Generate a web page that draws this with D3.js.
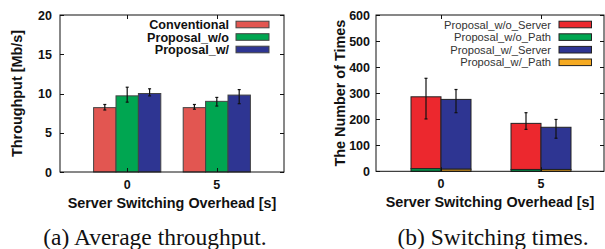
<!DOCTYPE html>
<html>
<head>
<meta charset="utf-8">
<script src="https://cdn.jsdelivr.net/npm/d3@7"></script>
<style>
  body { margin: 0; background: #fff; }
  svg { display: block; }
  text { font-family: "Liberation Sans", Arial, sans-serif; fill: #111; }
</style>
</head>
<body>
<svg id="chart" width="605" height="249"></svg>
<script>
(function() {
    'use strict';

    // ---- data: (a) average throughput ----
    var groups = ['0', '5'];
    var tputSeries = ['Conventional', 'Proposal_w/o', 'Proposal_w/'];
    var tputMean = [[8.2, 9.7, 10.0], [8.2, 9.0, 9.8]];
    var tputLow  = [[7.9, 8.9, 9.7],  [8.0, 8.4, 8.7]];
    var tputHigh = [[8.6, 10.8, 10.6], [8.6, 9.5, 10.5]];
    var tputTicks = [0, 5, 10, 15, 20];

    // ---- data: (b) switching times (server stacked on path) ----
    var swSeries = ['Proposal_w/o_Server', 'Proposal_w/o_Path', 'Proposal_w/_Server', 'Proposal_w/_Path'];
    var swPath   = [[10, 8], [7, 7]];      // [group][w/o, w/]
    var swServer = [[276, 268], [177, 162]];
    var swLow    = [[201, 225], [161, 127]];
    var swHigh   = [[357, 314], [225, 199]];
    var swTicks = [0, 100, 200, 300, 400, 500, 600];

    var colA = ['#e25651', '#00a651', '#2e3592'];
    var colB = ['#ec282e', '#00a651', '#2e3592', '#f5aa22'];

    var svg = d3.select('#chart');

    /******************************************************************
        shared frame: box, mirrored inside ticks, labels
     ******************************************************************/
    function frame(g, x, y, yTicks, yTitle, titleX, labelX) {
        var r = x.range(), b = y.range();
        g.append('rect')
            .attr('x', r[0]).attr('y', b[1])
            .attr('width', r[1] - r[0]).attr('height', b[0] - b[1])
            .attr('fill', 'none').attr('stroke', '#111').attr('stroke-width', 1);

        yTicks.forEach(function(t) {
            var yy = Math.round(y(t)) + 0.5;
            g.append('line').attr('x1', r[0]).attr('x2', r[0] + 4)
                .attr('y1', yy).attr('y2', yy).attr('stroke', '#111');
            g.append('line').attr('x1', r[1] - 4).attr('x2', r[1])
                .attr('y1', yy).attr('y2', yy).attr('stroke', '#111');
            g.append('text').attr('x', labelX).attr('y', y(t) + 4.5)
                .attr('text-anchor', 'end')
                .style('font-size', '12.5px').style('font-weight', 'bold')
                .text(t);
        });

        groups.forEach(function(gname, i) {
            var xx = Math.round(x(i)) + 0.5;
            g.append('line').attr('x1', xx).attr('x2', xx)
                .attr('y1', b[0]).attr('y2', b[0] - 4).attr('stroke', '#111');
            g.append('line').attr('x1', xx).attr('x2', xx)
                .attr('y1', b[1]).attr('y2', b[1] + 4).attr('stroke', '#111');
            g.append('text').attr('x', x(i)).attr('y', b[0] + 17)
                .attr('text-anchor', 'middle')
                .style('font-size', '12.5px').style('font-weight', 'bold')
                .text(gname);
        });

        g.append('text')
            .attr('transform', 'translate(' + titleX + ',' + (b[0] + b[1]) / 2 + ') rotate(-90)')
            .attr('text-anchor', 'middle')
            .style('font-size', '14.4px').style('font-weight', 'bold')
            .text(yTitle);

        g.append('text').attr('x', (r[0] + r[1]) / 2).attr('y', b[0] + 36)
            .attr('text-anchor', 'middle')
            .style('font-size', '14.4px').style('font-weight', 'bold')
            .text('Server Switching Overhead [s]');
    }

    function errbar(g, cx, y0, y1) {
        g.append('line').attr('x1', cx).attr('x2', cx).attr('y1', y0).attr('y2', y1)
            .attr('stroke', '#111').attr('stroke-width', 1.2);
        [y0, y1].forEach(function(yy) {
            g.append('line').attr('x1', cx - 1.5).attr('x2', cx + 1.5)
                .attr('y1', yy).attr('y2', yy).attr('stroke', '#111').attr('stroke-width', 1.2);
        });
    }

    /******************************************************************
        (a) average throughput
     ******************************************************************/
    var ga = svg.append('g');
    var xa = d3.scaleLinear().domain([-0.75, 1.75]).range([60, 284]);
    var ya = d3.scaleLinear().domain([0, 20]).range([172, 15]);
    var bwA = 0.25;

    tputMean.forEach(function(row, gi) {
        row.forEach(function(v, si) {
            var x0 = xa(gi + (si - 1.5) * bwA), x1 = xa(gi + (si - 0.5) * bwA);
            ga.append('rect')
                .attr('x', x0).attr('y', ya(v))
                .attr('width', x1 - x0).attr('height', ya(0) - ya(v))
                .attr('fill', colA[si]).attr('stroke', '#444').attr('stroke-width', 1);
            errbar(ga, (x0 + x1) / 2, ya(tputHigh[gi][si]), ya(tputLow[gi][si]));
        });
    });

    frame(ga, xa, ya, tputTicks, 'Throughput [Mb/s]', 21.5, 52);

    tputSeries.forEach(function(name, i) {
        var yy = 24.5 + i * 12.5;
        ga.append('text').attr('x', 229).attr('y', yy + 4.5)
            .attr('text-anchor', 'end')
            .style('font-size', '12.6px').style('font-weight', 'bold')
            .text(name);
        ga.append('rect').attr('x', 236).attr('y', yy - 3.3)
            .attr('width', 33).attr('height', 6.6)
            .attr('fill', colA[i]).attr('stroke', '#444');
    });

    ga.append('text').attr('x', 155).attr('y', 245)
        .attr('text-anchor', 'middle')
        .style('font-family', '"Liberation Serif", "Times New Roman", serif')
        .style('font-size', '23.5px')
        .text('(a) Average throughput.');

    /******************************************************************
        (b) switching times
     ******************************************************************/
    var gb = svg.append('g');
    var xb = d3.scaleLinear().domain([-0.65, 1.63]).range([376, 604]);
    var yb = d3.scaleLinear().domain([0, 600]).range([171.3, 15]);
    var bwB = 0.3;

    swServer.forEach(function(row, gi) {
        row.forEach(function(v, k) {
            var x0 = xb(gi + (k - 1) * bwB), x1 = xb(gi + k * bwB);
            var p = swPath[gi][k], top = p + v;
            gb.append('rect')
                .attr('x', x0).attr('y', yb(top))
                .attr('width', x1 - x0).attr('height', yb(p) - yb(top))
                .attr('fill', colB[k * 2]).attr('stroke', '#222').attr('stroke-width', 1);
            gb.append('rect')
                .attr('x', x0).attr('y', yb(p))
                .attr('width', x1 - x0).attr('height', yb(0) - yb(p))
                .attr('fill', colB[k * 2 + 1]).attr('stroke', '#222').attr('stroke-width', 1);
            errbar(gb, (x0 + x1) / 2, yb(swHigh[gi][k]), yb(swLow[gi][k]));
        });
    });

    frame(gb, xb, yb, swTicks, 'The Number of Times', 344.5, 370);

    swSeries.forEach(function(name, i) {
        var yy = 24.5 + i * 12.6;
        gb.append('text').attr('x', 551).attr('y', yy + 4)
            .attr('text-anchor', 'end')
            .style('font-size', '11.2px')
            .style('fill', '#333')
            .text(name);
        gb.append('rect').attr('x', 559).attr('y', yy - 3.3)
            .attr('width', 32.5).attr('height', 6.6)
            .attr('fill', colB[i]).attr('stroke', '#222');
    });

    gb.append('text').attr('x', 493).attr('y', 245)
        .attr('text-anchor', 'middle')
        .style('font-family', '"Liberation Serif", "Times New Roman", serif')
        .style('font-size', '23.5px')
        .text('(b) Switching times.');
})();
</script>
</body>
</html>
